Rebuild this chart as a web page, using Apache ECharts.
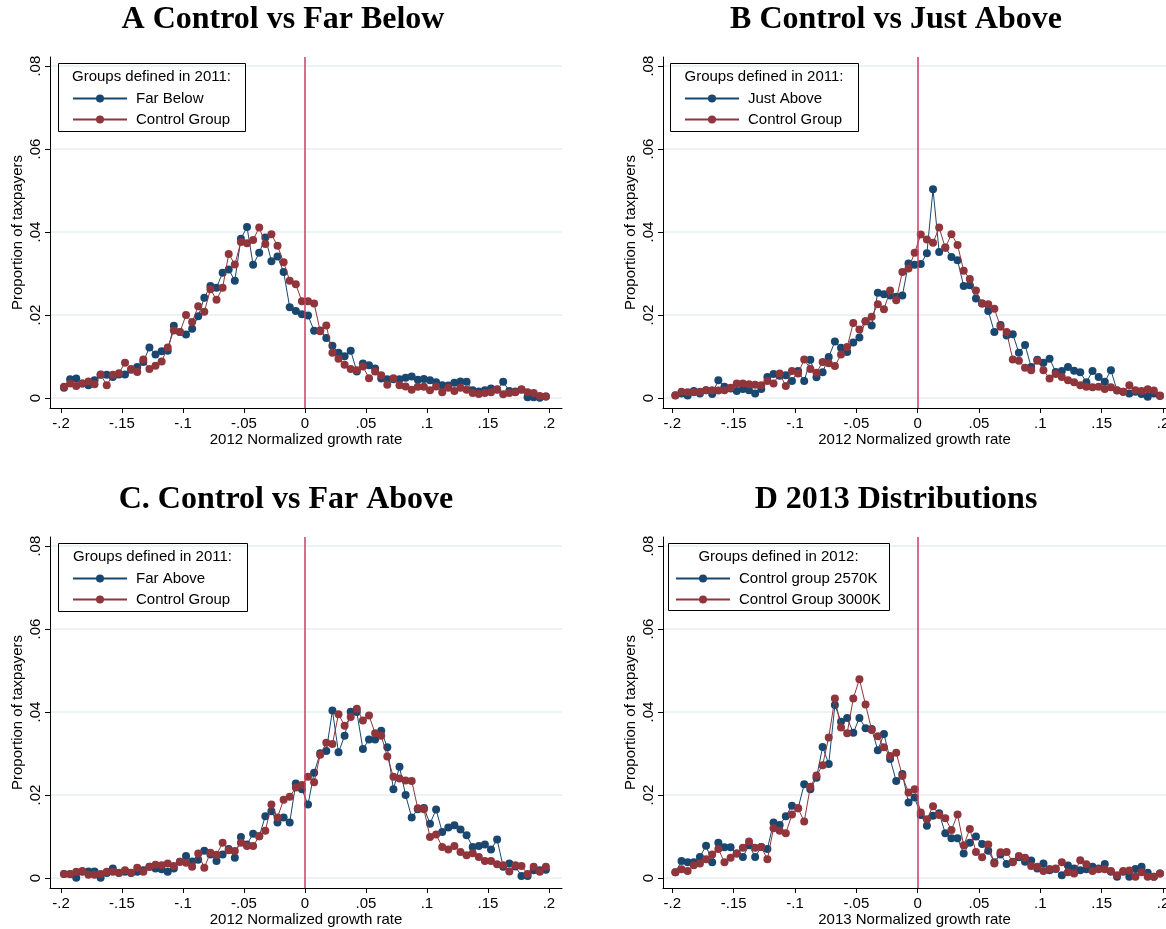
<html>
<head>
    <meta charset="utf-8">
    <title>Growth rate distributions</title>
    <script src="https://cdn.jsdelivr.net/npm/echarts@6/dist/echarts.min.js"></script>
    <style>
        body { margin: 0; background: #fff; overflow: hidden; }
    </style>
</head>
<body>
    <div id="chartmain" style="width:1166px; height:929px;"></div>

    <script type="text/javascript">

        // bin midpoints -.1975 ... .1975 (step .005)
        var bins = [];
        for (var i = 0; i < 80; i++) {
            bins.push(Math.round((-0.1975 + 0.005 * i) * 10000) / 10000);
        }

        var xTicks = [-0.2, -0.15, -0.1, -0.05, 0, 0.05, 0.1, 0.15, 0.2];
        var yTicks = [0, 0.02, 0.04, 0.06, 0.08];

        // A
        var farBelow = [
            0.0025, 0.0045, 0.0047, 0.0035, 0.0031, 0.0043, 0.0056, 0.0056, 0.0051, 0.0057,
            0.0057, 0.0068, 0.0075, 0.0087, 0.0122, 0.0105, 0.0113, 0.0114, 0.0174, 0.0159,
            0.0153, 0.0167, 0.0197, 0.0242, 0.0270, 0.0266, 0.0302, 0.0310, 0.0283, 0.0384,
            0.0412, 0.0321, 0.0350, 0.0387, 0.0330, 0.0341, 0.0304, 0.0219, 0.0210, 0.0202,
            0.0199, 0.0162, 0.0163, 0.0145, 0.0126, 0.0109, 0.0101, 0.0114, 0.0064, 0.0083,
            0.0079, 0.0071, 0.0047, 0.0045, 0.0045, 0.0045, 0.0049, 0.0052, 0.0044, 0.0046,
            0.0043, 0.0038, 0.0031, 0.0030, 0.0037, 0.0040, 0.0039, 0.0019, 0.0016, 0.0019,
            0.0023, 0.0020, 0.0039, 0.0017, 0.0016, 0.0020, 0.0002, 0.0002, 0.0001, 0.0004
        ];
        var controlA = [
            0.0027, 0.0035, 0.0029, 0.0035, 0.0040, 0.0033, 0.0057, 0.0031, 0.0056, 0.0060,
            0.0085, 0.0070, 0.0063, 0.0093, 0.0070, 0.0078, 0.0088, 0.0122, 0.0163, 0.0159,
            0.0200, 0.0183, 0.0221, 0.0208, 0.0262, 0.0237, 0.0266, 0.0347, 0.0322, 0.0376,
            0.0373, 0.0381, 0.0411, 0.0371, 0.0395, 0.0367, 0.0327, 0.0283, 0.0274, 0.0233,
            0.0233, 0.0228, 0.0161, 0.0175, 0.0109, 0.0095, 0.0080, 0.0070, 0.0067, 0.0076,
            0.0048, 0.0064, 0.0055, 0.0032, 0.0048, 0.0031, 0.0028, 0.0020, 0.0027, 0.0027,
            0.0019, 0.0028, 0.0014, 0.0025, 0.0017, 0.0025, 0.0020, 0.0012, 0.0010, 0.0012,
            0.0014, 0.0021, 0.0009, 0.0012, 0.0014, 0.0021, 0.0014, 0.0012, 0.0005, 0.0004
        ];

        // B
        var justAbove = [
            0.0007, 0.0011, 0.0006, 0.0017, 0.0011, 0.0019, 0.0010, 0.0043, 0.0027, 0.0023,
            0.0017, 0.0022, 0.0019, 0.0011, 0.0022, 0.0051, 0.0058, 0.0054, 0.0055, 0.0041,
            0.0065, 0.0041, 0.0092, 0.0050, 0.0062, 0.0099, 0.0136, 0.0121, 0.0111, 0.0134,
            0.0146, 0.0185, 0.0175, 0.0254, 0.0250, 0.0247, 0.0244, 0.0247, 0.0324, 0.0321,
            0.0323, 0.0349, 0.0503, 0.0352, 0.0363, 0.0340, 0.0332, 0.0270, 0.0272, 0.0240,
            0.0228, 0.0210, 0.0159, 0.0176, 0.0151, 0.0154, 0.0109, 0.0128, 0.0075, 0.0092,
            0.0085, 0.0095, 0.0063, 0.0065, 0.0075, 0.0066, 0.0062, 0.0038, 0.0065, 0.0051,
            0.0039, 0.0067, 0.0018, 0.0015, 0.0011, 0.0015, 0.0010, 0.0003, 0.0011, 0.0005
        ];
        var controlB = [
            0.0006, 0.0015, 0.0014, 0.0014, 0.0015, 0.0019, 0.0019, 0.0018, 0.0019, 0.0025,
            0.0035, 0.0035, 0.0033, 0.0032, 0.0031, 0.0041, 0.0035, 0.0059, 0.0029, 0.0065,
            0.0059, 0.0093, 0.0070, 0.0061, 0.0087, 0.0084, 0.0077, 0.0105, 0.0123, 0.0181,
            0.0165, 0.0185, 0.0196, 0.0226, 0.0214, 0.0259, 0.0236, 0.0304, 0.0312, 0.0350,
            0.0394, 0.0382, 0.0374, 0.0411, 0.0362, 0.0395, 0.0369, 0.0307, 0.0287, 0.0259,
            0.0228, 0.0226, 0.0215, 0.0172, 0.0159, 0.0093, 0.0090, 0.0073, 0.0067, 0.0090,
            0.0067, 0.0047, 0.0058, 0.0051, 0.0043, 0.0038, 0.0031, 0.0027, 0.0026, 0.0027,
            0.0022, 0.0026, 0.0019, 0.0015, 0.0031, 0.0019, 0.0017, 0.0021, 0.0018, 0.0006
        ];

        // C
        var farAbove = [
            0.0010, 0.0010, 0.0001, 0.0015, 0.0016, 0.0016, 0.0001, 0.0012, 0.0023, 0.0012,
            0.0015, 0.0012, 0.0015, 0.0019, 0.0027, 0.0023, 0.0021, 0.0015, 0.0023, 0.0039,
            0.0053, 0.0040, 0.0044, 0.0066, 0.0057, 0.0041, 0.0057, 0.0070, 0.0049, 0.0099,
            0.0081, 0.0107, 0.0101, 0.0149, 0.0161, 0.0134, 0.0146, 0.0134, 0.0228, 0.0214,
            0.0177, 0.0254, 0.0301, 0.0306, 0.0404, 0.0303, 0.0343, 0.0401, 0.0400, 0.0311,
            0.0334, 0.0334, 0.0355, 0.0315, 0.0214, 0.0268, 0.0200, 0.0146, 0.0166, 0.0169,
            0.0131, 0.0165, 0.0111, 0.0122, 0.0127, 0.0117, 0.0103, 0.0075, 0.0077, 0.0081,
            0.0069, 0.0093, 0.0027, 0.0035, 0.0028, 0.0005, 0.0005, 0.0019, 0.0019, 0.0020
        ];
        var controlC = [
            0.0010, 0.0009, 0.0015, 0.0017, 0.0008, 0.0008, 0.0010, 0.0015, 0.0015, 0.0013,
            0.0019, 0.0013, 0.0025, 0.0015, 0.0027, 0.0032, 0.0031, 0.0035, 0.0029, 0.0039,
            0.0037, 0.0027, 0.0059, 0.0025, 0.0061, 0.0056, 0.0085, 0.0067, 0.0065, 0.0085,
            0.0077, 0.0077, 0.0101, 0.0114, 0.0177, 0.0146, 0.0189, 0.0196, 0.0218, 0.0224,
            0.0244, 0.0231, 0.0297, 0.0326, 0.0323, 0.0395, 0.0367, 0.0388, 0.0408, 0.0380,
            0.0392, 0.0349, 0.0343, 0.0293, 0.0244, 0.0240, 0.0235, 0.0234, 0.0168, 0.0166,
            0.0099, 0.0105, 0.0075, 0.0069, 0.0077, 0.0063, 0.0055, 0.0060, 0.0051, 0.0041,
            0.0041, 0.0033, 0.0031, 0.0016, 0.0031, 0.0029, 0.0010, 0.0027, 0.0015, 0.0027
        ];

        // D
        var group2570 = [
            0.0014, 0.0041, 0.0038, 0.0038, 0.0051, 0.0078, 0.0038, 0.0085, 0.0074, 0.0074,
            0.0059, 0.0051, 0.0079, 0.0051, 0.0075, 0.0070, 0.0134, 0.0128, 0.0149, 0.0174,
            0.0168, 0.0226, 0.0214, 0.0242, 0.0316, 0.0275, 0.0417, 0.0377, 0.0386, 0.0350,
            0.0386, 0.0361, 0.0359, 0.0308, 0.0347, 0.0287, 0.0234, 0.0251, 0.0182, 0.0194,
            0.0152, 0.0126, 0.0150, 0.0156, 0.0108, 0.0096, 0.0096, 0.0059, 0.0085, 0.0100,
            0.0082, 0.0066, 0.0038, 0.0057, 0.0034, 0.0039, 0.0050, 0.0039, 0.0042, 0.0023,
            0.0035, 0.0019, 0.0022, 0.0007, 0.0030, 0.0023, 0.0019, 0.0021, 0.0027, 0.0023,
            0.0034, 0.0015, 0.0003, 0.0015, 0.0003, 0.0022, 0.0027, 0.0013, 0.0003, 0.0011
        ];
        var group3000 = [
            0.0014, 0.0021, 0.0017, 0.0031, 0.0035, 0.0045, 0.0057, 0.0070, 0.0038, 0.0049,
            0.0059, 0.0073, 0.0088, 0.0073, 0.0075, 0.0045, 0.0120, 0.0114, 0.0108, 0.0153,
            0.0168, 0.0136, 0.0220, 0.0247, 0.0272, 0.0339, 0.0433, 0.0363, 0.0349, 0.0433,
            0.0479, 0.0418, 0.0357, 0.0342, 0.0315, 0.0294, 0.0302, 0.0246, 0.0206, 0.0214,
            0.0158, 0.0142, 0.0173, 0.0152, 0.0144, 0.0116, 0.0153, 0.0079, 0.0118, 0.0063,
            0.0050, 0.0081, 0.0035, 0.0062, 0.0063, 0.0038, 0.0053, 0.0049, 0.0029, 0.0027,
            0.0017, 0.0022, 0.0023, 0.0038, 0.0014, 0.0011, 0.0043, 0.0033, 0.0017, 0.0021,
            0.0021, 0.0017, 0.0007, 0.0017, 0.0018, 0.0003, 0.0014, 0.0003, 0.0003, 0.0011
        ];

        var panels = [
            { title: 'A Control vs Far Below', xname: '2012 Normalized growth rate', head: 'Groups defined in 2011:',
              names: ['Far Below', 'Control Group'], data: [farBelow, controlA] },
            { title: 'B Control vs Just Above', xname: '2012 Normalized growth rate', head: 'Groups defined in 2011:',
              names: ['Just Above', 'Control Group'], data: [justAbove, controlB] },
            { title: 'C. Control vs Far Above', xname: '2012 Normalized growth rate', head: 'Groups defined in 2011:',
              names: ['Far Above', 'Control Group'], data: [farAbove, controlC] },
            { title: 'D 2013 Distributions', xname: '2013 Normalized growth rate', head: 'Groups defined in 2012:',
              names: ['Control group 2570K', 'Control Group 3000K'], data: [group2570, group3000] }
        ];

        var blue = '#1a476f';
        var red = '#90353b';
        var zeroLine = '#cc3d63';

        // layout of the 4 panels (pixels); right-hand panels run to the page edge like the original
        var grids = [
            { left: 50, top: 57, width: 512, height: 351, xmin: -0.209, xmax: 0.2107, tx: 283, ty: 4,
              box: [58, 63, 187, 68], key: [72, 92] },
            { left: 663, top: 57, width: 503, height: 351, xmin: -0.2076, xmax: 0.2024, tx: 896, ty: 4,
              box: [670, 63, 188, 68], key: [684, 92] },
            { left: 50, top: 537, width: 512, height: 351, xmin: -0.209, xmax: 0.2107, tx: 286, ty: 484,
              box: [58, 543, 189, 68], key: [72, 572] },
            { left: 663, top: 537, width: 503, height: 351, xmin: -0.2076, xmax: 0.2024, tx: 896, ty: 484,
              box: [668, 543, 221, 67], key: [675, 572] }
        ];

        function fmt(v) {
            var s = String(Math.round(v * 1000) / 1000);
            return s.replace('0.', '.');
        }

        function pairs(arr) {
            return arr.map(function (y, i) { return [bins[i], y]; });
        }

        var option = {
            animation: false,
            backgroundColor: '#fff',
            textStyle: { fontFamily: 'Liberation Sans, Arial, sans-serif' },
            title: [],
            legend: [],
            grid: [],
            xAxis: [],
            yAxis: [],
            series: [],
            graphic: []
        };

        panels.forEach(function (p, n) {
            var g = grids[n];

            option.title.push({
                text: p.title, left: g.tx, top: g.ty, textAlign: 'center', padding: 0,
                textStyle: { fontFamily: 'Liberation Serif, Times New Roman, serif', fontWeight: 'bold', fontSize: 32, color: '#000' }
            });
            option.title.push({
                text: p.head, left: g.box[0] + g.box[2] / 2, top: g.box[1] + 6, textAlign: 'center', padding: 0,
                textStyle: { fontFamily: 'Liberation Sans, Arial, sans-serif', fontWeight: 'normal', fontSize: 15, color: '#000' }
            });

            option.graphic.push({
                type: 'rect', z: 10,
                shape: { x: g.box[0] + 0.5, y: g.box[1] + 0.5, width: g.box[2], height: g.box[3] },
                style: { fill: 'transparent', stroke: '#000', lineWidth: 1 }
            });

            option.legend.push({
                data: p.names,
                orient: 'vertical',
                left: g.key[0], top: g.key[1] - 1,
                padding: 0,
                itemGap: 6,
                itemWidth: 54,
                itemHeight: 10,
                textStyle: { fontSize: 15, color: '#000', padding: [0, 0, 0, 4] }
            });

            // outerBoundsMode none: keep the exact pixel box, labels may run off the page
            option.grid.push({
                left: g.left, top: g.top, width: g.width, height: g.height,
                containLabel: false, outerBoundsMode: 'none'
            });

            option.xAxis.push({
                type: 'value', gridIndex: n, min: g.xmin, max: g.xmax,
                name: p.xname, nameLocation: 'middle', nameGap: 23,
                nameTextStyle: { fontSize: 15, color: '#000' },
                axisLine: { show: true, onZero: false, lineStyle: { color: '#000', width: 1 } },
                axisTick: { show: true, length: 5, customValues: xTicks, lineStyle: { color: '#000' } },
                axisLabel: { customValues: xTicks, fontSize: 15, color: '#000', margin: 8, formatter: fmt },
                splitLine: { show: false }
            });

            option.yAxis.push({
                type: 'value', gridIndex: n, min: -0.0024, max: 0.0822,
                name: 'Proportion of taxpayers', nameLocation: 'middle', nameGap: 25, nameRotate: 90,
                nameTextStyle: { fontSize: 15, color: '#000' },
                axisLine: { show: true, onZero: false, lineStyle: { color: '#000', width: 1 } },
                axisTick: { show: true, length: 5, customValues: yTicks, lineStyle: { color: '#000' } },
                axisLabel: { customValues: yTicks, fontSize: 15, color: '#000', margin: 7, rotate: 90, formatter: fmt },
                splitLine: { show: true, lineStyle: { color: '#e7eff2', width: 1.5 } }
            });

            option.series.push({
                name: p.names[0], type: 'line', xAxisIndex: n, yAxisIndex: n,
                data: pairs(p.data[0]),
                symbol: 'circle', symbolSize: 8, showSymbol: true,
                itemStyle: { color: blue }, lineStyle: { color: blue, width: 1 },
                z: 2
            });
            option.series.push({
                name: p.names[1], type: 'line', xAxisIndex: n, yAxisIndex: n,
                data: pairs(p.data[1]),
                symbol: 'circle', symbolSize: 8, showSymbol: true,
                itemStyle: { color: red }, lineStyle: { color: red, width: 1 },
                z: 3,
                markLine: {
                    silent: true, symbol: ['none', 'none'],
                    label: { show: false },
                    lineStyle: { color: zeroLine, width: 1.5, type: 'solid' },
                    data: [{ xAxis: 0 }]
                }
            });
        });

        var myChart = echarts.init(document.getElementById('chartmain'));
        myChart.setOption(option);

    </script>
</body>
</html>
